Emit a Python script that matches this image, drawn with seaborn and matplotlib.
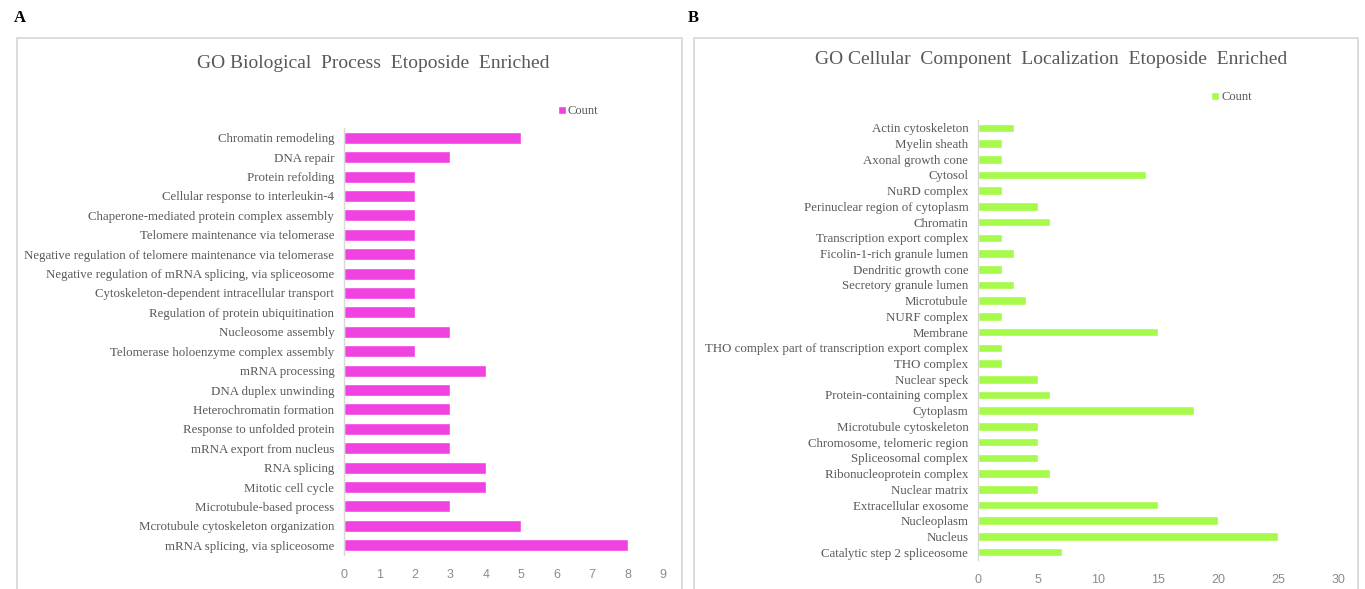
import matplotlib
matplotlib.use("Agg")
import matplotlib.pyplot as plt
from matplotlib.patches import Rectangle
import seaborn as sns
import pandas as pd

# GO Biological Process terms (top to bottom) and gene counts
bp_terms = [
    "Chromatin remodeling",
    "DNA repair",
    "Protein refolding",
    "Cellular response to interleukin-4",
    "Chaperone-mediated protein complex assembly",
    "Telomere maintenance via telomerase",
    "Negative regulation of telomere maintenance via telomerase",
    "Negative regulation of mRNA splicing, via spliceosome",
    "Cytoskeleton-dependent intracellular transport",
    "Regulation of protein ubiquitination",
    "Nucleosome assembly",
    "Telomerase holoenzyme complex assembly",
    "mRNA processing",
    "DNA duplex unwinding",
    "Heterochromatin formation",
    "Response to unfolded protein",
    "mRNA export from nucleus",
    "RNA splicing",
    "Mitotic cell cycle",
    "Microtubule-based process",
    "Mcrotubule cytoskeleton organization",
    "mRNA splicing, via spliceosome",
]
bp_counts = [5, 3, 2, 2, 2, 2, 2, 2, 2, 2, 3, 2, 4, 3, 3, 3, 3, 4, 4, 3, 5, 8]
bp_ticks = [0, 1, 2, 3, 4, 5, 6, 7, 8, 9]

# GO Cellular Component terms (top to bottom) and gene counts
cc_terms = [
    "Actin cytoskeleton",
    "Myelin sheath",
    "Axonal growth cone",
    "Cytosol",
    "NuRD complex",
    "Perinuclear region of cytoplasm",
    "Chromatin",
    "Transcription export complex",
    "Ficolin-1-rich granule lumen",
    "Dendritic growth cone",
    "Secretory granule lumen",
    "Microtubule",
    "NURF complex",
    "Membrane",
    "THO complex part of transcription export complex",
    "THO complex",
    "Nuclear speck",
    "Protein-containing complex",
    "Cytoplasm",
    "Microtubule cytoskeleton",
    "Chromosome, telomeric region",
    "Spliceosomal complex",
    "Ribonucleoprotein complex",
    "Nuclear matrix",
    "Extracellular exosome",
    "Nucleoplasm",
    "Nucleus",
    "Catalytic step 2 spliceosome",
]
cc_counts = [3, 2, 2, 14, 2, 5, 6, 2, 3, 2, 3, 4, 2, 15, 2, 2, 5, 6, 18, 5, 5, 5, 6, 5, 15, 20, 25, 7]
cc_ticks = [0, 5, 10, 15, 20, 25, 30]

sns.set_theme(style="white")
plt.rcParams["font.family"] = ["Liberation Serif", "DejaVu Serif"]

W, H = 1365, 589
fig = plt.figure(figsize=(W / 100, H / 100), dpi=100)
fig.patch.set_facecolor("white")

TEXT = "#595959"
TICK = "#8c8c8c"
FRAME = "#d9d9d9"


def px_rect(x0, y0, x1, y1):
    return [x0 / W, 1 - y1 / H, (x1 - x0) / W, (y1 - y0) / H]


# panel frames
for (x0, x1) in [(17, 682), (694, 1358)]:
    fig.add_artist(Rectangle((x0 / W, -0.05), (x1 - x0) / W, 1.05 - 38 / H,
                             transform=fig.transFigure, fill=False,
                             edgecolor=FRAME, linewidth=1.3))

fig.text(14 / W, 1 - 18 / H, "A", fontsize=12, fontweight="bold", color="black",
         ha="left", va="center")
fig.text(688 / W, 1 - 18 / H, "B", fontsize=12, fontweight="bold", color="black",
         ha="left", va="center")


def draw_panel(rect, terms, counts, ticks, color, width, title, title_xy, legend_xy):
    ax = fig.add_axes(rect)
    df = pd.DataFrame({"term": terms, "count": counts})
    sns.barplot(data=df, x="count", y="term", orient="h", color=color,
                saturation=1, width=width, label="Count", ax=ax)
    ax.set_xlim(ticks[0], ticks[-1])
    ax.set_xticks(ticks)
    ax.set_xticklabels([str(t) for t in ticks], family="Liberation Sans",
                       fontsize=9, color=TICK)
    ax.set_yticks(range(len(terms)))
    ax.set_yticklabels(terms, fontsize=9.3, color=TEXT)
    ax.set_xlabel("")
    ax.set_ylabel("")
    ax.tick_params(axis="x", length=0, pad=10)
    ax.tick_params(axis="y", length=0, pad=7)
    for side in ["top", "right", "bottom"]:
        ax.spines[side].set_visible(False)
    ax.spines["left"].set_color(FRAME)
    ax.spines["left"].set_linewidth(1.0)
    ax.grid(False)
    ax.set_facecolor("none")
    fig.text(title_xy[0] / W, 1 - title_xy[1] / H, title, fontsize=14,
             color=TEXT, ha="center", va="center")
    handles, labels = ax.get_legend_handles_labels()
    ax.legend(handles, labels, loc="center left",
              bbox_to_anchor=(legend_xy[0] / W, 1 - legend_xy[1] / H),
              bbox_transform=fig.transFigure, frameon=False, fontsize=9,
              handlelength=0.6, handleheight=0.6, handletextpad=0.2,
              labelcolor=TEXT, borderpad=0, borderaxespad=0)
    return ax


draw_panel(px_rect(344, 128, 663, 555), bp_terms, bp_counts, bp_ticks,
           "#EF42E0", 0.62, "GO Biological  Process  Etoposide  Enriched",
           (373, 63), (558, 111))
draw_panel(px_rect(978, 120, 1338, 560), cc_terms, cc_counts, cc_ticks,
           "#A6FB4A", 0.55, "GO Cellular  Component  Localization  Etoposide  Enriched",
           (1051, 60), (1211, 97))

fig.savefig("out.png", dpi=100, facecolor="white")
